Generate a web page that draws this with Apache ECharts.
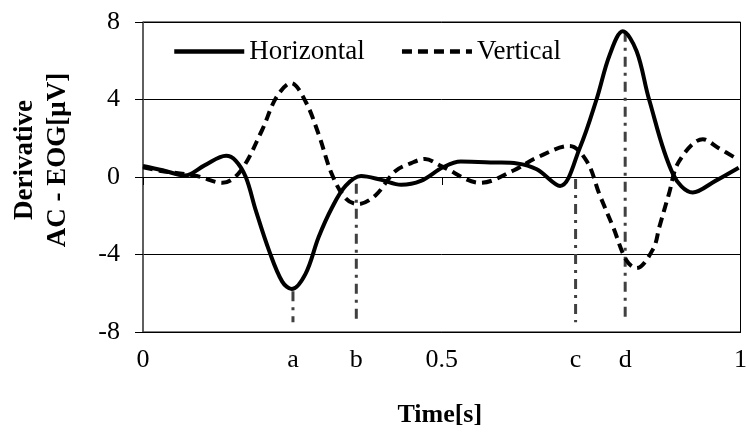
<!DOCTYPE html>
<html>
<head>
<meta charset="utf-8">
<script src="https://cdn.jsdelivr.net/npm/echarts@6/dist/echarts.min.js"></script>
<style>
html,body{margin:0;padding:0;background:#fff;}
#chart{width:750px;height:434px;}
</style>
</head>
<body>
<div id="chart"></div>
<script>
// Data
var horizontalData = [
  [0,0.57],[0.033,0.35],[0.07,0.08],[0.103,0.6],[0.139,1.1],[0.155,0.85],[0.172,0.0],
  [0.189,-1.75],[0.211,-3.8],[0.233,-5.4],[0.249,-5.78],[0.272,-5.0],[0.294,-3.1],
  [0.316,-1.6],[0.339,-0.46],[0.365,0.05],[0.399,-0.15],[0.432,-0.4],[0.465,-0.2],
  [0.502,0.5],[0.532,0.8],[0.588,0.75],[0.626,0.7],[0.659,0.4],[0.698,-0.46],
  [0.731,1.5],[0.759,4.0],[0.781,6.3],[0.803,7.52],[0.826,6.5],[0.847,4.0],
  [0.887,0.15],[0.92,-0.8],[0.958,-0.2],[0.997,0.48]
];
var verticalData = [
  [0,0.5],[0.033,0.3],[0.09,0.05],[0.133,-0.3],[0.163,0.3],[0.199,2.4],[0.223,4.1],
  [0.248,4.85],[0.272,3.9],[0.294,2.2],[0.316,0.15],[0.339,-1.1],[0.36,-1.4],
  [0.389,-0.95],[0.422,0.3],[0.449,0.72],[0.472,0.93],[0.5,0.55],[0.565,-0.3],
  [0.621,0.35],[0.659,1.0],[0.714,1.6],[0.743,0.8],[0.764,-0.9],[0.787,-2.6],
  [0.809,-4.3],[0.826,-4.7],[0.854,-3.7],[0.864,-2.6],[0.88,-0.9],[0.897,0.8],
  [0.937,1.95],[0.963,1.5],[0.995,0.92]
];
var seriesNames = ['Horizontal', 'Vertical'];
// Event markers (dash-dot lines) and x tick labels
var markerTimes = [0.251, 0.357, 0.724, 0.807];
var markerLabels = ['a', 'b', 'c', 'd'];
var markerTop = [-5.9, -0.35, -0.1, 7.5];
var markerBottom = -7.5;
var xTickValues = [0, markerTimes[0], markerTimes[1], 0.5, markerTimes[2], markerTimes[3], 1];
var xTickLabels = ['0', 'a', 'b', '0.5', 'c', 'd', '1'];
var zeroLineTickInterval = 0.5;

var serif = '"Liberation Serif", "Times New Roman", serif';
var chart = echarts.init(document.getElementById('chart'));

var markerSeries = markerTimes.map(function (t, i) {
  return {
    type: 'line',
    name: 'marker-' + markerLabels[i],
    data: [[t, markerTop[i]], [t, markerBottom]],
    symbol: 'none',
    silent: true,
    z: 1,
    lineStyle: { color: '#404040', width: 3, type: [10, 6, 3, 6] }
  };
});

chart.setOption({
  animation: false,
  backgroundColor: '#fff',
  grid: {
    left: 143, right: 5, top: 22, bottom: 102,
    show: true, borderColor: '#000', borderWidth: 1
  },
  legend: {
    data: seriesNames,
    left: 167, top: 33,
    itemWidth: 70, itemHeight: 14, itemGap: 35,
    itemStyle: { opacity: 0 },
    lineStyle: { width: 4.5 },
    textStyle: { fontFamily: serif, fontSize: 27, color: '#000' }
  },
  xAxis: [{
    type: 'value', min: 0, max: 1,
    position: 'bottom',
    name: 'Time[s]',
    nameLocation: 'middle',
    nameGap: 70,
    nameTextStyle: { fontFamily: serif, fontSize: 26, fontWeight: 'bold', color: '#000', padding: [0, 4, 0, 0] },
    axisLine: { onZero: false, lineStyle: { color: '#000', width: 1 } },
    axisTick: { show: false },
    splitLine: { show: false },
    axisLabel: {
      customValues: xTickValues,
      showMinLabel: true, showMaxLabel: true, hideOverlap: false,
      margin: 15,
      fontFamily: serif, fontSize: 26, color: '#000',
      formatter: function (v) {
        for (var i = 0; i < xTickValues.length; i++) {
          if (Math.abs(xTickValues[i] - v) < 1e-9) return xTickLabels[i];
        }
        return '';
      }
    }
  }, {
    type: 'value', min: 0, max: 1, interval: zeroLineTickInterval,
    position: 'top',
    axisLine: { show: true, onZero: true, onZeroAxisIndex: 0, lineStyle: { color: '#000', width: 1 } },
    axisTick: { show: true, inside: true, length: 8, lineStyle: { color: '#000', width: 1 } },
    axisLabel: { show: false },
    splitLine: { show: false }
  }],
  yAxis: {
    type: 'value', min: -8, max: 8, interval: 4,
    name: 'Derivative\nAC - EOG[μV]',
    nameLocation: 'middle',
    nameRotate: 90,
    nameGap: 68,
    nameTextStyle: { fontFamily: serif, fontSize: 27, fontWeight: 'bold', color: '#000', lineHeight: 33, padding: [0, 0, 0, 34] },
    axisLine: { show: true, lineStyle: { color: '#555', width: 1.5 } },
    axisTick: { show: true, length: 8, lineStyle: { color: '#000' } },
    axisLabel: { margin: 23, fontFamily: serif, fontSize: 26, color: '#000' },
    splitLine: { show: true, lineStyle: { color: '#000', width: 1 } }
  },
  series: [{
    type: 'line', name: seriesNames[0], data: horizontalData,
    smooth: 0.35, symbol: 'none', z: 3,
    lineStyle: { color: '#000', width: 4 },
    itemStyle: { color: '#000' }
  }, {
    type: 'line', name: seriesNames[1], data: verticalData,
    smooth: 0.35, symbol: 'none', z: 2,
    lineStyle: { color: '#000', width: 4, type: [10, 6] },
    itemStyle: { color: '#000' }
  }].concat(markerSeries)
});
</script>
</body>
</html>
